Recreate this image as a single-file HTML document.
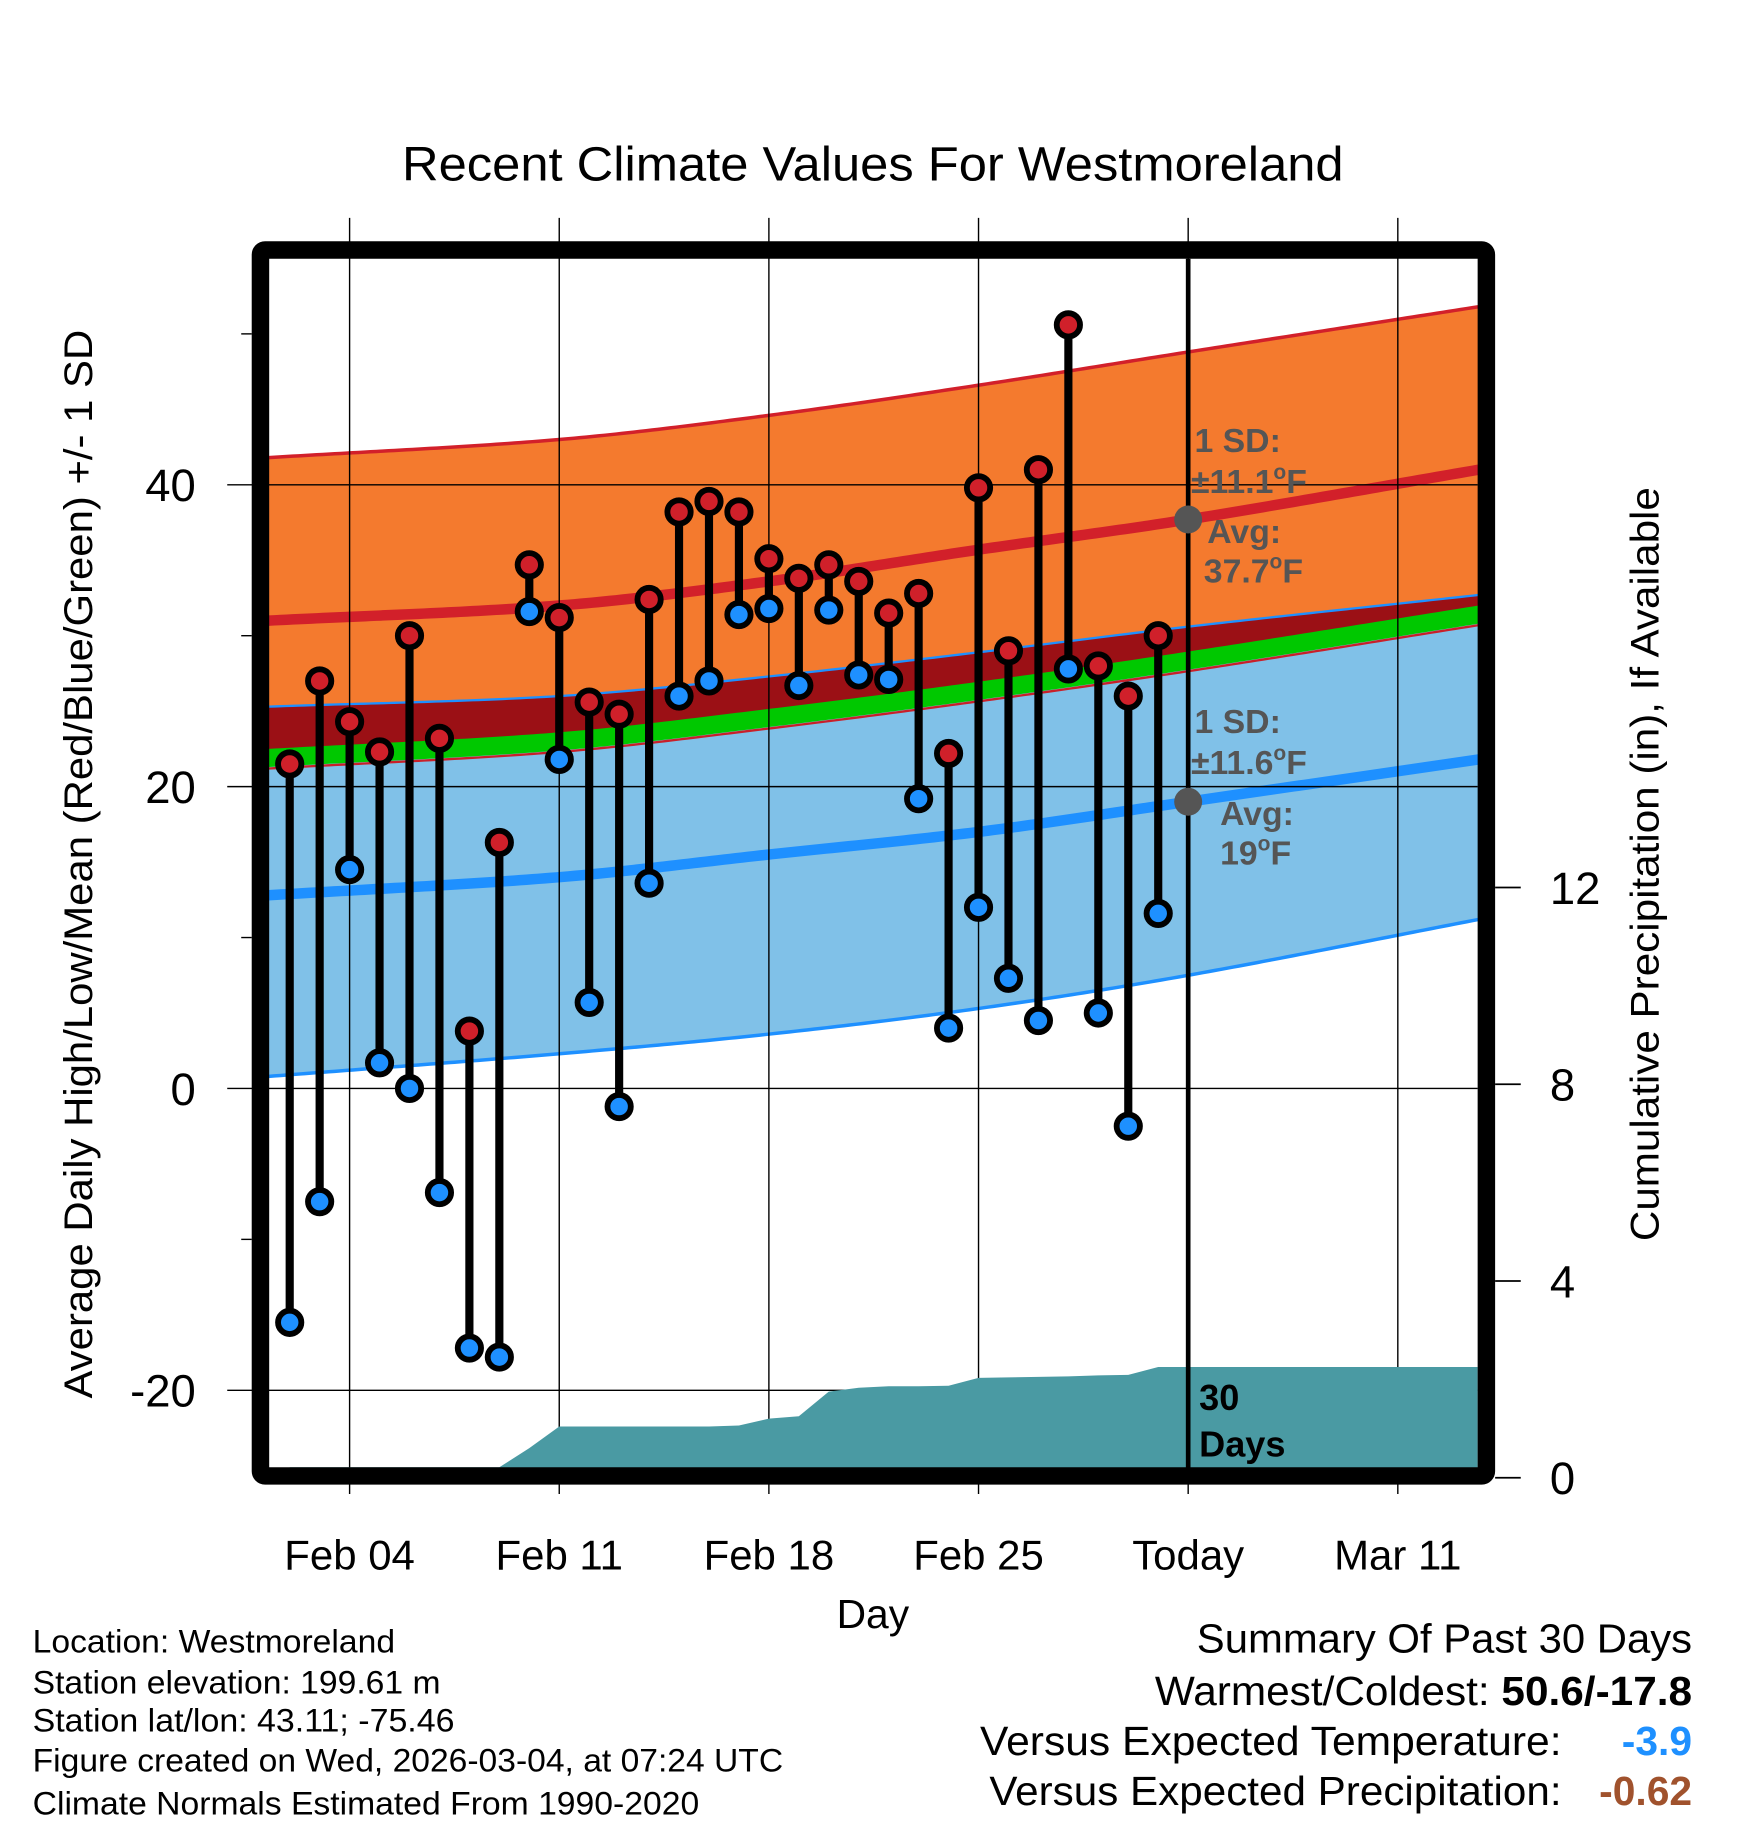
<!DOCTYPE html>
<html><head><meta charset="utf-8"><style>html,body{margin:0;padding:0;background:#fff}svg{display:block}</style></head>
<body>
<svg id="chart" width="1748" height="1828" viewBox="0 0 1500 1568.6" preserveAspectRatio="none" xmlns="http://www.w3.org/2000/svg" font-family="Liberation Sans, sans-serif">
<text x="345" y="155" font-size="41" textLength="808" lengthAdjust="spacingAndGlyphs">Recent Climate Values For Westmoreland</text>
<g id="bands"></g>
<g id="grid"></g>
<g id="precip"></g>
<g id="marks"></g>
<g id="axes"></g>
<text transform="translate(79,1200) rotate(-90)" font-size="34" textLength="917" lengthAdjust="spacingAndGlyphs">Average Daily High/Low/Mean (Red/Blue/Green) +/- 1 SD</text>
<text transform="translate(1423,1065) rotate(-90)" font-size="34" textLength="647" lengthAdjust="spacingAndGlyphs">Cumulative Precipitation (in), If Available</text>
<text x="749" y="1397" font-size="35" text-anchor="middle">Day</text>
<g fill="#555" font-weight="bold" font-size="29">
<text x="1025" y="388">1 SD:</text><text x="1022" y="423">±11.1<tspan font-size="18" dy="-12">o</tspan><tspan dy="12">F</tspan></text>
<text x="1036" y="466">Avg:</text><text x="1033" y="500">37.7<tspan font-size="18" dy="-12">o</tspan><tspan dy="12">F</tspan></text>
</g>
<g fill="#555" font-weight="bold" font-size="29">
<text x="1025" y="629">1 SD:</text><text x="1022" y="664">±11.6<tspan font-size="18" dy="-12">o</tspan><tspan dy="12">F</tspan></text>
<text x="1047" y="708">Avg:</text><text x="1047" y="742">19<tspan font-size="18" dy="-12">o</tspan><tspan dy="12">F</tspan></text>
</g>
<text x="1029" y="1210" font-size="31" font-weight="bold">30</text>
<text x="1029" y="1250" font-size="31" font-weight="bold">Days</text>
<g font-size="28" lengthAdjust="spacingAndGlyphs">
<text x="28" y="1418" textLength="311" lengthAdjust="spacingAndGlyphs">Location: Westmoreland</text>
<text x="28" y="1453" textLength="350" lengthAdjust="spacingAndGlyphs">Station elevation: 199.61 m</text>
<text x="28" y="1486" textLength="362" lengthAdjust="spacingAndGlyphs">Station lat/lon: 43.11; -75.46</text>
<text x="28" y="1520" textLength="644" lengthAdjust="spacingAndGlyphs">Figure created on Wed, 2026-03-04, at 07:24 UTC</text>
<text x="28" y="1557" textLength="572" lengthAdjust="spacingAndGlyphs">Climate Normals Estimated From 1990-2020</text>
</g>
<g font-size="35">
<text x="1027" y="1418" textLength="425" lengthAdjust="spacingAndGlyphs">Summary Of Past 30 Days</text>
<text x="991" y="1463" textLength="461" lengthAdjust="spacingAndGlyphs">Warmest/Coldest: <tspan font-weight="bold">50.6/-17.8</tspan></text>
<text x="841" y="1506" textLength="499" lengthAdjust="spacingAndGlyphs">Versus Expected Temperature:</text>
<text x="1452" y="1506" fill="#1e90ff" font-weight="bold" text-anchor="end">-3.9</text>
<text x="849" y="1549" textLength="491" lengthAdjust="spacingAndGlyphs">Versus Expected Precipitation:</text>
<text x="1452" y="1549" fill="#a0522d" font-weight="bold" text-anchor="end">-0.62</text>
</g>
</svg>
<script>
const days = [2,3,4,5,6,7,8,9,10,11,12,13,14,15,16,17,18,19,20,21,22,23,24,25,26,27,28,29,30,31];
const highs = [21.5,27,24.3,22.3,30,23.2,3.8,16.3,34.7,31.2,25.6,24.8,32.4,38.2,38.9,38.2,35.1,33.8,34.7,33.6,31.5,32.8,22.2,39.8,29,41,50.6,28,26,30];
const lows = [-15.5,-7.5,14.5,1.7,0,-6.9,-17.2,-17.8,31.6,21.8,5.7,-1.2,13.6,26,27,31.4,31.8,26.7,31.7,27.4,27.1,19.2,4,12,7.3,4.5,27.8,5,-2.5,11.6];
const precip = [0,0,0,0,0,0.04,0.05,0.05,0.6,1.04,1.04,1.04,1.04,1.04,1.04,1.06,1.2,1.25,1.75,1.83,1.86,1.86,1.87,2.03,2.04,2.05,2.06,2.08,2.09,2.25];
const normDays = [1.3,11,18,25,32,41.7];
const normHigh = [31.0,32.0,33.6,35.7,37.7,41.0];
const highUpper = [41.8,43.0,44.6,46.6,48.8,51.8];
const normLow = [12.8,14.0,15.5,17.0,19.0,21.8];
const lowUpper = [25.3,26.0,27.3,28.9,30.6,32.7];
const lowLower = [0.8,2.3,3.6,5.3,7.5,11.2];
const yTicks = [40,20,0,-20];
const yMinor = [50,30,10,-10];
const pTicks = [0,4,8,12];
const xTickDays = [4,11,18,25,32,39];
const xTickLabels = ['Feb 04','Feb 11','Feb 18','Feb 25','Today','Mar 11'];

const NS='http://www.w3.org/2000/svg';
const X = d => 300 + (d-4)*25.7;
const Y = v => 934 - v*12.95;
const P = p => 1268 - p*42.2;
const L=231,R=1268,T=222,B=1260;
function mk(tag,attrs,parent){const e=document.createElementNS(NS,tag);for(const k in attrs)e.setAttribute(k,attrs[k]);parent.appendChild(e);return e;}
const bands=document.getElementById('bands'),grid=document.getElementById('grid'),pg=document.getElementById('precip'),marks=document.getElementById('marks'),axes=document.getElementById('axes');
function interp(arr,d){
  const n=normDays.length;let i=0;while(i<n-2&&d>normDays[i+1])i++;
  const x0=normDays[i],x1=normDays[i+1],h=x1-x0,t=(d-x0)/h;
  const slope=k=>{if(k===0)return (arr[1]-arr[0])/(normDays[1]-normDays[0]);if(k===n-1)return (arr[n-1]-arr[n-2])/(normDays[n-1]-normDays[n-2]);return (arr[k+1]-arr[k-1])/(normDays[k+1]-normDays[k-1]);};
  const m0=slope(i)*h,m1=slope(i+1)*h,t2=t*t,t3=t2*t;
  return (2*t3-3*t2+1)*arr[i]+(t3-2*t2+t)*m0+(-2*t3+3*t2)*arr[i+1]+(t3-t2)*m1;
}
const ds=[];for(let d=normDays[0];d<=41.7+1e-6;d+=0.2)ds.push(d);
function band(fTop,fBot){const top=ds.map(d=>X(d)+','+Y(fTop(d)));const bot=ds.slice().reverse().map(d=>X(d)+','+Y(fBot(d)));return 'M'+top.join('L')+'L'+bot.join('L')+'Z';}
function line(f){return 'M'+ds.map(d=>X(d)+','+Y(f(d))).join('L');}
const hi=d=>interp(normHigh,d), lo=d=>interp(normLow,d), mean=d=>(hi(d)+lo(d))/2;
const hu=d=>interp(highUpper,d), hl=d=>2*hi(d)-hu(d), lu=d=>interp(lowUpper,d), ll=d=>interp(lowLower,d);
let e;
e=mk('path',{d:band(hu,hl),fill:'#f47a2e'},bands);

e=mk('path',{d:band(lu,ll),fill:'#80c1e8'},bands);

e=mk('path',{d:band(lu,mean),fill:'#9b1015'},bands);

e=mk('path',{d:band(d=>mean(d)+0.6,d=>mean(d)-0.6),fill:'#00c800'},bands);

e=mk('path',{d:line(d=>mean(d)-0.7),stroke:'#c8202a',fill:'none','stroke-width':2},bands);

e=mk('path',{d:line(hu),stroke:'#d2202a',fill:'none','stroke-width':3},bands);

e=mk('path',{d:line(lu),stroke:'#1e90ff',fill:'none','stroke-width':2},bands);

e=mk('path',{d:line(ll),stroke:'#1e90ff',fill:'none','stroke-width':3},bands);

e=mk('path',{d:line(hi),stroke:'#d2202a',fill:'none','stroke-width':9},bands);

e=mk('path',{d:line(lo),stroke:'#1e90ff',fill:'none','stroke-width':9},bands);

// precip area
let pd='M'+X(days[0])+','+B;days.forEach((d,i)=>{pd+='L'+X(d)+','+Math.min(B-1,P(precip[i]));});pd+='L'+R+','+P(precip[precip.length-1])+'L'+R+','+B+'Z';
e=mk('path',{d:pd,fill:'#4a9aa3'},pg);

// grid
xTickDays.forEach((d,i)=>{
e=mk('line',{x1:X(d),x2:X(d),y1:187,y2:1282,stroke:'#000','stroke-width':1.2},grid);

e=mk('text',{x:X(d),y:1347,'font-size':36,'text-anchor':'middle'},axes);e.textContent=xTickLabels[i];

});
yTicks.forEach(v=>{
e=mk('line',{x1:195,x2:R,y1:Y(v),y2:Y(v),stroke:'#000','stroke-width':1.2},grid);

e=mk('text',{x:168,y:Y(v)+14,'font-size':39,'text-anchor':'end'},axes);e.textContent=v;

});
yMinor.forEach(v=>{
e=mk('line',{x1:207,x2:216,y1:Y(v),y2:Y(v),stroke:'#000','stroke-width':1.2},grid);

});
pTicks.forEach(p=>{
e=mk('line',{x1:1283,x2:1305,y1:P(p),y2:P(p),stroke:'#000','stroke-width':1.5},axes);

e=mk('text',{x:1330,y:P(p)+14,'font-size':39},axes);e.textContent=p;

});
// today line
e=mk('line',{x1:X(32),x2:X(32),y1:T,y2:B,stroke:'#000','stroke-width':4},marks);

e=mk('circle',{cx:X(32),cy:Y(hi(32)),r:12,fill:'#555'},marks);

e=mk('circle',{cx:X(32),cy:Y(lo(32)),r:12,fill:'#555'},marks);

days.forEach((d,i)=>{
e=mk('line',{x1:X(d),x2:X(d),y1:Y(highs[i]),y2:Y(lows[i]),stroke:'#000','stroke-width':7},marks);

});
days.forEach((d,i)=>{
e=mk('circle',{cx:X(d),cy:Y(highs[i]),r:10,fill:'#d0202a',stroke:'#000','stroke-width':5},marks);

e=mk('circle',{cx:X(d),cy:Y(lows[i]),r:10,fill:'#1e90ff',stroke:'#000','stroke-width':5},marks);

});
e=mk('rect',{x:223.5,y:214.5,width:1052,height:1052,fill:'none',stroke:'#000','stroke-width':15,rx:4},axes);

</script>
</body></html>
